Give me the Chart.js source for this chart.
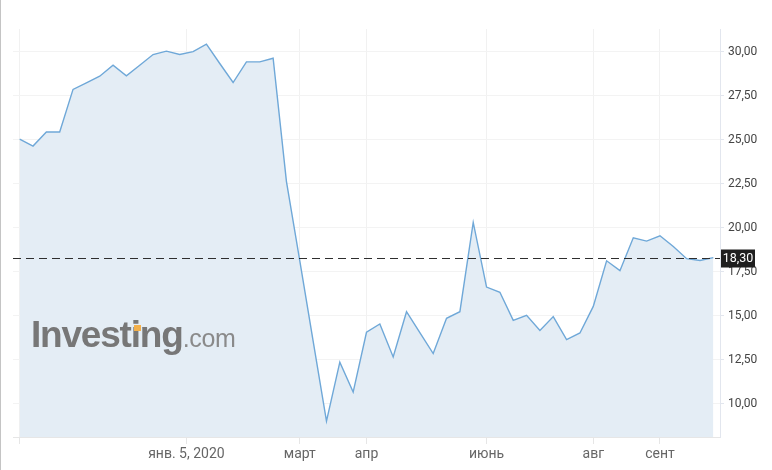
<!DOCTYPE html>
<html>
<head>
<meta charset="utf-8">
<script src="https://cdn.jsdelivr.net/npm/chart.js@4"></script>
<style>
  html, body { margin: 0; padding: 0; background: #fff; }
  #wrap { position: relative; width: 772px; height: 470px; overflow: hidden; }
  #c { position: absolute; left: 0; top: 0; }
  #edge { position: absolute; left: 0; top: 0; width: 1px; height: 470px; background: #c4c4c4; }
  #logo { position: absolute; left: 31px; top: 316px; white-space: nowrap; pointer-events: none;
          font-family: "Liberation Sans", Arial, sans-serif; color: #777; line-height: 1; }
  #logo .big { font-weight: bold; font-size: 37px; letter-spacing: -1.2px; }
  #logo .small { font-size: 25px; color: #8a8a8a; letter-spacing: -0.3px; }
  #accent { position: absolute; left: 134px; top: 325px; width: 7px; height: 6px; background: #f3b04b; }
</style>
</head>
<body>
<div id="wrap">
  <canvas id="c" width="772" height="470"></canvas>
  <div id="edge"></div>
  <div id="logo"><span class="big">Investing</span><span class="small">.com</span></div>
  <div id="accent"></div>
</div>
<script>
// ---- data (weekly closes) ----
const values = [25.04,24.64,25.44,25.44,27.86,28.23,28.61,29.23,28.63,29.23,
                29.84,30.03,29.84,30.00,30.43,29.33,28.25,29.42,29.42,29.63,
                22.62,18.12,13.56,9.01,12.36,10.66,14.06,14.53,12.66,15.23,
                14.04,12.85,14.85,15.23,20.30,16.63,16.33,14.74,15.02,14.16,
                14.95,13.64,14.02,15.53,18.12,17.56,19.43,19.24,19.54,18.93,
                18.24,18.14,18.30];
const xTickPositions = [0, 12.5, 21, 26, 35, 43, 48];
const xTickLabels    = ['', 'янв. 5, 2020', 'март', 'апр', 'июнь', 'авг', 'сент'];
const yTickValues = [10, 12.5, 15, 17.5, 20, 22.5, 25, 27.5, 30];
const currentPrice = 18.30;

const points = values.map((v, i) => ({ x: i, y: v }));
const fmt = v => v.toFixed(2).replace('.', ',');

const priceLine = {
  id: 'priceLine',
  afterDatasetsDraw(chart) {
    const { ctx, chartArea, scales } = chart;
    const y = Math.round(scales.y.getPixelForValue(currentPrice)) + 0.5;
    ctx.save();
    ctx.strokeStyle = '#2e2e2e';
    ctx.lineWidth = 1;
    ctx.setLineDash([8, 5]);
    ctx.beginPath();
    ctx.moveTo(chartArea.left, y);
    ctx.lineTo(chartArea.right, y);
    ctx.stroke();
    ctx.setLineDash([]);
    const bx = chartArea.right + 1, bw = 34, bh = 18;
    ctx.fillStyle = '#1f1f1f';
    ctx.fillRect(bx, y - bh / 2, bw, bh);
    ctx.fillStyle = '#ffffff';
    ctx.font = '12.5px Roboto, "Liberation Sans", Arial, sans-serif';
    ctx.textAlign = 'center';
    ctx.textBaseline = 'middle';
    ctx.fillText(fmt(currentPrice), bx + bw / 2, y + 0.5);
    ctx.restore();
  }
};

new Chart(document.getElementById('c'), {
  type: 'line',
  data: {
    datasets: [{
      data: points,
      borderColor: '#6fa8d8',
      borderWidth: 1.4,
      backgroundColor: '#e4edf5',
      fill: 'start',
      pointRadius: 0,
      tension: 0
    }]
  },
  options: {
    responsive: false,
    animation: false,
    events: [],
    layout: { padding: { left: 13, top: 29, right: 0, bottom: 0 } },
    plugins: { legend: { display: false }, tooltip: { enabled: false } },
    scales: {
      x: {
        type: 'linear',
        position: 'bottom',
        min: -0.5,
        max: 52.5,
        afterBuildTicks: s => { s.ticks = xTickPositions.map(v => ({ value: v })); },
        afterFit: s => { s.height = 33; },
        grid: { color: '#f1f1f1', tickLength: 7, tickColor: '#e6e6e6' },
        border: { color: '#e6e6e6' },
        ticks: {
          autoSkip: false, maxRotation: 0, padding: 2,
          color: '#666',
          font: { family: 'Roboto, "Liberation Sans", Arial, sans-serif', size: 14 },
          callback: (v) => { const k = xTickPositions.indexOf(v); return k >= 0 ? xTickLabels[k] : ''; }
        }
      },
      y: {
        position: 'right',
        min: 8.11,
        max: 31.29,
        afterBuildTicks: s => { s.ticks = yTickValues.map(v => ({ value: v })); },
        afterFit: s => { s.width = 52; },
        grid: { color: '#f3f3f3', tickLength: 4, tickColor: '#e2e6ee' },
        border: { color: '#e2e6ee' },
        ticks: {
          autoSkip: false, padding: 4,
          color: '#444',
          font: { family: 'Roboto, "Liberation Sans", Arial, sans-serif', size: 12 },
          callback: v => fmt(v)
        }
      }
    }
  },
  plugins: [priceLine]
});
</script>
</body>
</html>
